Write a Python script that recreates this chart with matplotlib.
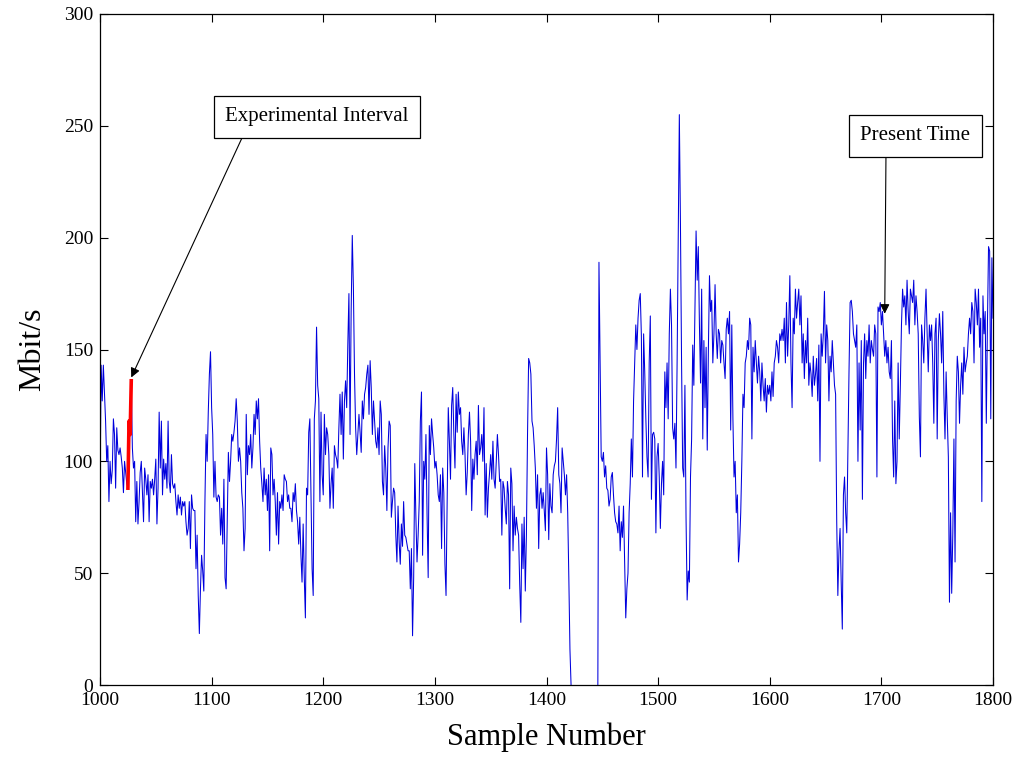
import matplotlib
matplotlib.use("Agg")
import matplotlib.pyplot as plt
import numpy as np

# ---- data (Mbit/s per sample) ----
start_sample = 1000
c1000 = [84, 143, 127, 143, 130, 118, 100, 107, 82, 100,
         90, 96, 119, 112, 88, 115, 105, 103, 106, 102,
         97, 86, 100, 95, 90, 88, 118, 112, 136, 106,
         97, 100, 73, 91, 72, 82, 95, 100, 86, 73,
         97, 92, 85, 94, 73, 91, 88, 92, 85, 92,
         101, 72, 88, 122, 97, 118, 85, 101, 92, 99,
         88, 118, 91, 86, 103, 90, 88, 90, 82, 76,
         85, 79, 84, 76, 82, 80, 82, 73, 67, 70,
         82, 61, 85, 79, 78, 78, 52, 67, 40, 23,
         43, 58, 51, 42, 82, 112, 100, 122, 139, 149]
c1100 = [124, 112, 84, 100, 84, 82, 85, 84, 67, 79,
         63, 92, 48, 43, 73, 104, 91, 100, 112, 109,
         113, 118, 128, 118, 100, 106, 100, 86, 79, 60,
         70, 121, 94, 107, 103, 112, 97, 106, 121, 112,
         127, 119, 128, 109, 97, 90, 82, 97, 85, 92,
         78, 94, 60, 106, 103, 85, 92, 82, 67, 86,
         63, 82, 79, 85, 78, 94, 92, 91, 82, 85,
         79, 79, 73, 86, 82, 90, 78, 73, 63, 75,
         58, 46, 72, 48, 30, 88, 85, 113, 119, 86,
         52, 40, 119, 127, 160, 134, 128, 82, 122, 94]
c1200 = [85, 121, 103, 115, 112, 103, 79, 90, 97, 79,
         107, 103, 101, 97, 115, 130, 112, 131, 101, 127,
         136, 124, 152, 175, 112, 167, 201, 178, 139, 115,
         103, 112, 121, 113, 104, 127, 119, 130, 133, 139,
         143, 121, 145, 133, 112, 127, 118, 109, 106, 115,
         103, 127, 121, 91, 85, 107, 97, 78, 106, 118,
         116, 75, 82, 88, 86, 67, 55, 80, 64, 54,
         72, 62, 82, 67, 66, 63, 60, 60, 43, 61,
         22, 48, 99, 75, 55, 67, 82, 118, 131, 58,
         100, 92, 112, 76, 48, 116, 103, 119, 112, 106]
c1300 = [97, 100, 94, 85, 82, 94, 61, 97, 86, 54,
         40, 82, 124, 109, 92, 125, 133, 112, 97, 130,
         113, 131, 121, 124, 109, 103, 115, 103, 85, 95,
         112, 122, 109, 78, 101, 92, 103, 109, 94, 125,
         103, 106, 112, 100, 124, 76, 99, 75, 88, 95,
         103, 92, 109, 92, 88, 100, 112, 103, 91, 92,
         67, 91, 88, 79, 72, 91, 85, 43, 97, 90,
         60, 80, 67, 75, 70, 67, 45, 28, 72, 52,
         75, 42, 67, 112, 146, 144, 139, 118, 115, 107,
         97, 79, 94, 61, 85, 88, 79, 86, 78, 69]
nan = float('nan')   # measurement outage (no samples drawn)
c1400 = [106, 94, 65, 90, 80, 77, 94, 98, 100, 110,
         124, 94, 90, 77, 106, 100, 94, 85, 94, 77,
         48, 16, 0, nan, nan, nan, nan, nan, nan, nan,
         nan, nan, nan, nan, nan, nan, nan, nan, nan, nan,
         nan, nan, nan, nan, nan, nan, 0, 189, 144, 102,
         100, 104, 93, 98, 88, 87, 80, 83, 93, 95,
         85, 77, 73, 72, 68, 80, 60, 73, 66, 80,
         55, 30, 43, 50, 77, 90, 110, 93, 127, 144,
         161, 150, 164, 172, 175, 156, 93, 157, 140, 119,
         102, 93, 144, 165, 83, 112, 113, 110, 68, 102]
c1500 = [108, 93, 70, 90, 100, 85, 140, 124, 144, 119,
         157, 177, 161, 115, 110, 117, 97, 144, 201, 255,
         206, 144, 97, 93, 134, 75, 38, 51, 46, 93,
         110, 152, 134, 169, 203, 181, 196, 161, 135, 177,
         110, 154, 124, 151, 105, 149, 183, 167, 172, 144,
         157, 179, 157, 146, 159, 157, 144, 154, 152, 144,
         137, 159, 164, 157, 167, 114, 161, 119, 93, 100,
         77, 85, 55, 63, 77, 100, 130, 124, 144, 147,
         154, 150, 164, 161, 110, 151, 140, 154, 144, 135,
         147, 140, 127, 144, 134, 127, 137, 122, 134, 130]
c1600 = [134, 127, 140, 129, 144, 147, 154, 151, 144, 157,
         154, 159, 154, 164, 144, 171, 147, 161, 183, 144,
         124, 164, 157, 177, 164, 171, 177, 161, 174, 144,
         157, 137, 154, 144, 164, 134, 144, 139, 129, 147,
         134, 139, 146, 127, 152, 100, 157, 147, 157, 176,
         144, 161, 154, 127, 147, 140, 154, 144, 134, 130,
         73, 40, 60, 70, 46, 25, 85, 93, 77, 68,
         104, 140, 171, 172, 167, 157, 154, 151, 161, 100,
         144, 114, 154, 83, 144, 157, 137, 154, 147, 161,
         144, 154, 150, 147, 161, 157, 93, 169, 167, 171]
c1700 = [161, 167, 157, 147, 154, 144, 151, 140, 137, 154,
         110, 93, 127, 90, 100, 144, 110, 134, 161, 177,
         169, 174, 161, 181, 167, 157, 177, 174, 171, 181,
         161, 174, 167, 157, 120, 102, 161, 154, 144, 164,
         177, 157, 140, 161, 154, 161, 144, 117, 157, 164,
         110, 154, 166, 157, 144, 167, 130, 110, 140, 120,
         102, 37, 77, 41, 68, 110, 55, 127, 147, 140,
         117, 134, 144, 130, 151, 140, 144, 147, 157, 164,
         157, 171, 167, 144, 177, 171, 161, 177, 151, 164,
         82, 174, 157, 167, 117, 161, 196, 194, 119, 191]
c1800 = [164]

interval_samples = [1025, 1026, 1027, 1028]   # experimental interval (red)
present_sample = 1703
present_value = 166
x_ticks = [1000, 1100, 1200, 1300, 1400, 1500, 1600, 1700, 1800]
y_ticks = [0, 50, 100, 150, 200, 250, 300]

# ---- build series ----
mbit = np.array(c1000 + c1100 + c1200 + c1300 + c1400 + c1500 + c1600 + c1700 + c1800, dtype=float)
samples = np.arange(start_sample, start_sample + len(mbit))
red_idx = [s - start_sample for s in interval_samples]

plt.rcParams['font.family'] = ['Liberation Serif', 'DejaVu Serif']

fig = plt.figure(figsize=(10.17, 7.57), dpi=100)
ax = fig.add_axes([100 / 1017, 1 - 685 / 757, 893 / 1017, 671 / 757])

ax.plot(samples, mbit, color='#0000dd', lw=0.75, zorder=2)
ax.plot(interval_samples, mbit[red_idx], color='#ff0000', lw=2.6, zorder=3)

ax.set_xlim(1000, 1800)
ax.set_ylim(0, 300)
ax.set_xticks(x_ticks)
ax.set_yticks(y_ticks)
ax.tick_params(direction='in', top=True, right=True, length=6, width=0.8,
               labelsize=14, pad=5)
for sp in ax.spines.values():
    sp.set_linewidth(0.9)
    sp.set_zorder(5)

ax.set_xlabel('Sample Number', fontsize=22, labelpad=10)
ax.set_ylabel('Mbit/s', fontsize=23, labelpad=12)

arrow_kw = dict(arrowstyle='-|>', color='black', lw=0.8, mutation_scale=14,
                shrinkA=0, shrinkB=0)
ax.annotate('Experimental Interval',
            xy=(interval_samples[-1], mbit[red_idx[-1]] + 1.5),
            xytext=(1194.4, 254), textcoords='data',
            ha='center', va='center', fontsize=15,
            bbox=dict(boxstyle='square,pad=0.55', fc='white', ec='black', lw=0.9),
            arrowprops=dict(relpos=(0.12, 0.0), **arrow_kw))
ax.annotate('Present Time',
            xy=(present_sample, present_value), xytext=(1730.3, 245.5), textcoords='data',
            ha='center', va='center', fontsize=15,
            bbox=dict(boxstyle='square,pad=0.55', fc='white', ec='black', lw=0.9),
            arrowprops=dict(relpos=(0.235, 0.0), **arrow_kw))

fig.savefig('out.png', dpi=100, facecolor='white')
